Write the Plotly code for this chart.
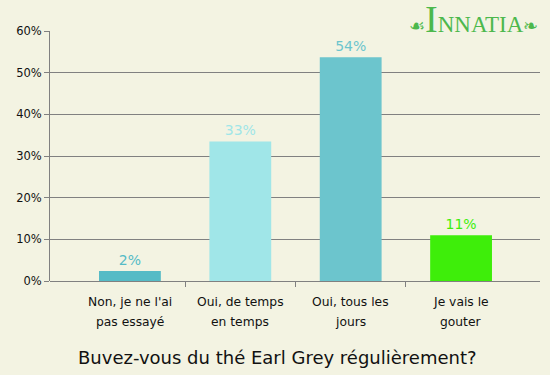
import plotly.graph_objects as go

categories = ["Non, je ne l'ai|pas essayé", "Oui, de temps|en temps", "Oui, tous les|jours", "Je vais le|gouter"]
values = [2.4, 33.5, 53.7, 11.0]
labels = ["2%", "33%", "54%", "11%"]
colors = ["#55BBC6", "#A0E6E8", "#6CC5CD", "#3EEE0A"]
y_ticks = [0, 10, 20, 30, 40, 50, 60]
title = "Buvez-vous du thé Earl Grey régulièrement?"

bg = "#F3F3E2"
font = "DejaVu Sans"
xs = list(range(len(categories)))

# plot area: top 31px, bottom 281px (height 250px)
def py(pix):
    return (281 - pix) / 250

fig = go.Figure()
fig.add_trace(go.Bar(
    x=xs, y=values, width=0.56,
    marker=dict(color=colors, line=dict(width=0)),
    text=labels, textposition="outside",
    textfont=dict(family=font, size=14, color=colors),
    cliponaxis=False, hoverinfo="skip",
))

annotations = []
for i, c in enumerate(categories):
    l1, l2 = c.split("|")
    annotations.append(dict(x=i, y=py(302), xref="x", yref="paper", yanchor="middle", text=l1,
                            showarrow=False, font=dict(family=font, size=12.3, color="#111")))
    annotations.append(dict(x=i, y=py(322), xref="x", yref="paper", yanchor="middle", text=l2,
                            showarrow=False, font=dict(family=font, size=12.3, color="#111")))

annotations.append(dict(x=(277 - 50) / 490, y=py(357), xref="paper", yref="paper",
                        xanchor="center", yanchor="middle",
                        text=title, showarrow=False,
                        font=dict(family=font, size=18, color="#111")))

annotations.append(dict(x=1.0, y=py(42), xref="paper", yref="paper", xanchor="right", yanchor="bottom",
                        text="<span style='font-size:18px'>☙</span><span style='font-size:38px'>I</span>NNATIA<span style='font-size:18px'>❧</span>",
                        showarrow=False,
                        font=dict(family="Liberation Serif", size=23, color="#4CB84C")))

fig.update_layout(
    width=550, height=375,
    margin=dict(l=50, r=10, t=31, b=94),
    paper_bgcolor=bg, plot_bgcolor=bg,
    showlegend=False,
    annotations=annotations,
    xaxis=dict(range=[-0.724, 3.715], tickvals=xs, ticktext=[""] * len(xs), ticks="",
               showgrid=False, zeroline=False, showline=False,
               minor=dict(tickvals=[0.5, 1.5, 2.5], ticks="outside", ticklen=5,
                          tickcolor="#808080", showgrid=False)),
    yaxis=dict(range=[0, 60], tickvals=y_ticks, ticktext=[f"{v}%" for v in y_ticks],
               ticks="outside", ticklen=5, tickcolor="#808080",
               showgrid=True, gridcolor="#808080", gridwidth=1,
               zeroline=True, zerolinecolor="#808080", zerolinewidth=1,
               showline=True, linecolor="#808080", linewidth=1,
               tickfont=dict(family=font, size=11.5, color="#111")),
    font=dict(family=font),
)
fig.write_html("out.html", config={"displayModeBar": False},
               post_script="document.body.style.margin='0';")
